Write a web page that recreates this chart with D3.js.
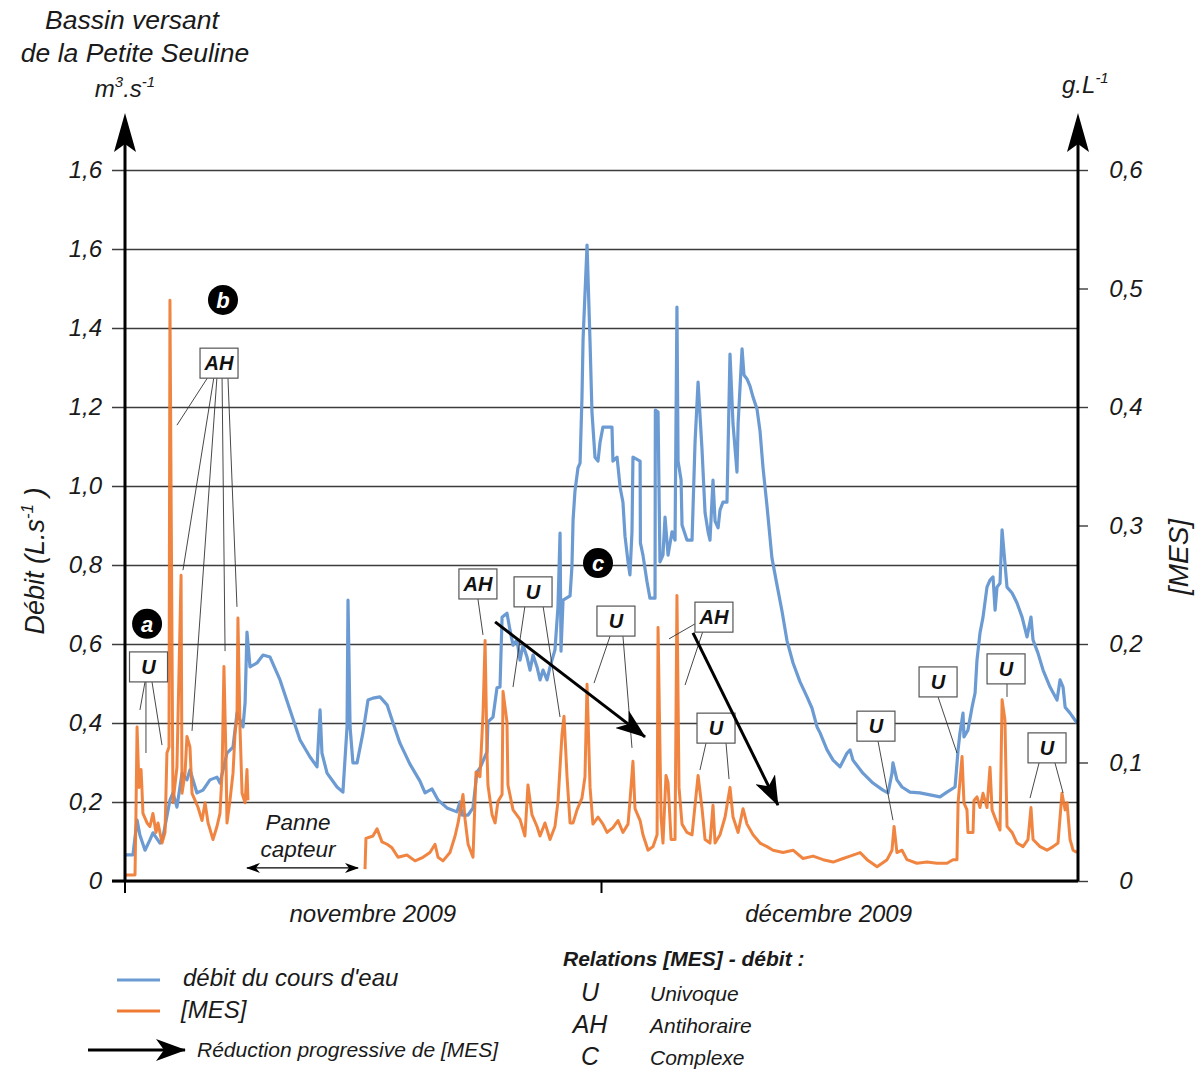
<!DOCTYPE html>
<html><head><meta charset="utf-8">
<script src="https://cdn.jsdelivr.net/npm/d3@7"></script>
<style>body{margin:0;background:#fff}</style>
</head><body><svg id="chart" width="1198" height="1072"></svg>
<script>
// ---------- DATA ----------
// time in days since 1 Nov 2009
const flowDays=[
0,0.13,0.50,0.76,0.94,1.26,1.57,1.76,2.20,2.39,
2.83,3.02,3.27,3.59,3.90,4.09,4.53,4.91,5.35,5.79,
5.98,6.42,6.80,7.05,7.43,7.56,7.68,7.87,8.31,8.69,
9.13,9.76,10.39,11.02,11.65,12.09,12.28,12.40,12.72,13.35,
13.72,13.98,14.04,14.17,14.35,14.61,14.98,15.30,15.61,16.05,
16.50,16.81,17.31,17.94,18.57,18.89,19.33,19.71,20.27,20.90,
21.09,21.22,21.60,21.91,22.16,22.35,22.79,22.85,23.17,23.42,
23.61,23.74,24.05,24.24,24.43,24.68,24.87,25.06,25.31,25.50,
25.69,25.94,26.13,26.32,26.57,26.76,27.07,27.26,27.39,27.45,
27.58,28.02,28.14,28.21,28.33,28.52,28.65,28.77,28.84,29.09,
29.28,29.40,29.59,29.78,29.91,30.09,30.66,30.72,30.98,31.17,
31.35,31.48,31.67,31.79,31.92,31.98,32.43,32.45,32.61,32.86,
33.05,33.37,33.39,33.56,33.68,33.87,34.00,34.19,34.44,34.63,
34.75,34.82,35.01,35.07,35.38,35.70,35.89,36.08,36.33,36.52,
36.71,36.83,37.02,37.15,37.34,37.46,37.65,37.90,38.09,38.28,
38.53,38.60,38.85,38.97,39.16,39.35,39.54,39.79,39.98,40.17,
40.42,40.73,41.05,41.36,41.68,42.06,42.50,42.94,43.25,43.57,
43.76,44.20,44.58,45.02,45.46,45.65,45.83,46.46,47.09,47.72,
48.04,48.29,48.35,48.60,48.92,49.42,50.05,50.68,51.31,51.75,
52.26,52.45,52.57,52.76,52.82,53.07,53.33,53.52,53.64,53.83,
54.02,54.27,54.46,54.65,54.78,54.90,55.09,55.22,55.40,55.53,
55.85,56.16,56.48,56.79,57.04,57.17,57.48,57.80,58.24,58.68,
58.87,59.06,59.19,59.50,59.94];
const flowValues=[
0.066,0.066,0.066,0.154,0.116,0.078,0.104,0.122,0.096,0.111,
0.205,0.223,0.187,0.273,0.256,0.281,0.223,0.230,0.256,0.263,
0.248,0.324,0.339,0.425,0.390,0.451,0.630,0.542,0.552,0.572,
0.567,0.509,0.433,0.357,0.314,0.289,0.433,0.324,0.273,0.238,
0.225,0.390,0.711,0.390,0.299,0.299,0.375,0.458,0.463,0.466,
0.446,0.408,0.349,0.296,0.253,0.223,0.233,0.205,0.185,0.175,
0.200,0.167,0.167,0.185,0.276,0.286,0.327,0.403,0.415,0.489,
0.491,0.668,0.678,0.635,0.597,0.610,0.559,0.597,0.567,0.534,
0.572,0.542,0.509,0.534,0.509,0.542,0.585,0.694,0.881,0.582,
0.711,0.722,0.797,0.914,0.987,1.046,1.058,1.223,1.372,1.610,
1.362,1.187,1.073,1.063,1.111,1.149,1.149,1.063,1.073,0.997,
0.959,0.873,0.808,0.775,0.884,1.073,1.063,0.856,0.825,0.759,
0.716,0.716,1.192,1.187,0.808,0.825,0.921,0.825,0.884,0.863,
1.453,1.063,1.015,0.901,0.863,0.863,1.111,1.263,1.091,0.932,
0.884,0.863,1.015,0.911,0.894,0.939,0.959,0.959,1.334,1.157,
1.035,1.157,1.347,1.281,1.271,1.253,1.225,1.195,1.139,1.046,
0.949,0.818,0.749,0.684,0.608,0.552,0.504,0.466,0.438,0.390,
0.375,0.332,0.306,0.289,0.324,0.332,0.306,0.273,0.248,0.230,
0.223,0.273,0.299,0.256,0.238,0.225,0.223,0.218,0.213,0.225,
0.238,0.332,0.375,0.425,0.365,0.382,0.440,0.476,0.559,0.628,
0.668,0.744,0.762,0.770,0.686,0.744,0.754,0.889,0.805,0.744,
0.729,0.704,0.668,0.618,0.668,0.610,0.577,0.534,0.491,0.458,
0.509,0.491,0.440,0.425,0.400];

const mesDays=[
0,0.63,0.69,0.76,0.88,1.01,1.07,1.13,1.39,1.57,
1.76,1.95,2.08,2.33,2.52,2.64,2.77,2.83,3.02,3.27,
3.53,3.59,3.78,3.90,4.09,4.22,4.41,4.60,4.85,5.04,
5.23,5.54,5.79,5.98,6.11,6.23,6.36,6.42,6.61,6.80,
6.93,7.05,7.11,7.24,7.37,7.56,7.68,7.74,11.0,15.11,
15.17,15.61,15.87,16.18,16.50,16.81,17.19,17.75,18.26,18.76,
19.20,19.52,19.71,20.02,20.46,20.78,20.97,21.28,21.41,21.60,
21.91,22.10,22.35,22.54,22.67,22.79,22.85,23.11,23.30,23.48,
23.74,23.80,24.05,24.11,24.43,24.87,25.18,25.37,25.62,25.94,
26.13,26.44,26.76,27.07,27.26,27.51,27.64,27.83,28.02,28.21,
28.46,28.77,28.96,29.09,29.28,29.46,29.78,30.09,30.35,30.72,
31.04,31.35,31.67,31.79,31.98,32.11,32.43,32.61,32.93,33.24,
33.50,33.56,33.75,33.87,34.06,34.19,34.38,34.63,34.75,34.88,
35.07,35.38,35.70,35.89,36.08,36.33,36.52,36.83,37.02,37.15,
37.46,37.78,38.09,38.28,38.60,38.91,39.16,39.54,39.98,40.42,
40.80,41.43,42.06,42.69,43.32,43.95,44.58,45.21,45.65,46.28,
46.72,47.35,47.98,48.29,48.42,48.60,48.92,49.23,49.86,50.49,
51.12,51.75,52.13,52.38,52.45,52.70,52.82,53.01,53.07,53.39,
53.45,53.64,53.83,54.02,54.27,54.46,54.59,54.90,55.09,55.22,
55.40,55.53,55.85,56.16,56.54,56.85,57.04,57.17,57.61,58.05,
58.43,58.74,58.99,59.19,59.31,59.50,59.69,59.94];
const mesValues=[
0.005,0.005,0.057,0.130,0.079,0.094,0.077,0.057,0.049,0.046,
0.057,0.041,0.049,0.032,0.041,0.108,0.113,0.490,0.066,0.096,
0.258,0.074,0.091,0.122,0.113,0.074,0.068,0.062,0.051,0.066,
0.049,0.035,0.046,0.057,0.091,0.181,0.102,0.049,0.068,0.091,
0.125,0.138,0.222,0.130,0.074,0.066,0.094,0.068,null,0.010,
0.036,0.038,0.044,0.033,0.031,0.028,0.020,0.022,0.017,0.020,
0.024,0.031,0.020,0.017,0.024,0.038,0.049,0.073,0.052,0.031,
0.020,0.092,0.088,0.141,0.203,0.110,0.081,0.056,0.049,0.067,
0.073,0.160,0.134,0.081,0.060,0.052,0.038,0.081,0.056,0.046,
0.038,0.049,0.035,0.046,0.067,0.123,0.139,0.088,0.049,0.049,
0.060,0.070,0.088,0.166,0.079,0.048,0.054,0.048,0.041,0.045,
0.051,0.041,0.048,0.067,0.101,0.061,0.051,0.039,0.026,0.029,
0.039,0.214,0.054,0.032,0.089,0.083,0.035,0.035,0.241,0.079,
0.048,0.041,0.039,0.064,0.089,0.061,0.035,0.032,0.064,0.032,
0.039,0.054,0.079,0.054,0.041,0.061,0.048,0.039,0.032,0.029,
0.026,0.024,0.026,0.019,0.021,0.018,0.016,0.019,0.021,0.024,
0.018,0.012,0.018,0.026,0.046,0.024,0.026,0.018,0.015,0.016,
0.015,0.015,0.018,0.018,0.066,0.105,0.066,0.060,0.041,0.041,
0.068,0.071,0.062,0.074,0.062,0.096,0.060,0.049,0.043,0.153,
0.136,0.046,0.041,0.032,0.029,0.035,0.062,0.035,0.029,0.026,
0.029,0.032,0.074,0.060,0.066,0.035,0.026,0.024];

const leftTicks=[0,0.2,0.4,0.6,0.8,1.0,1.2,1.4,1.6,1.8];
const leftTickLabels=["0","0,2","0,4","0,6","0,8","1,0","1,2","1,4","1,6","1,6"];
const rightTicks=[0,0.1,0.2,0.3,0.4,0.5,0.6];
const rightTickLabels=["0","0,1","0,2","0,3","0,4","0,5","0,6"];
const monthTickDays=[0,30];
const monthLabels=["novembre 2009","décembre 2009"];
const monthLabelDays=[15.6,44.3];

// annotations (day, débit level)
const boxLabels=["U","AH","AH","U","U","AH","U","U","U","U","U"];
const boxDays=[1.48,5.92,22.22,25.69,30.91,37.08,37.21,47.28,51.19,55.47,58.05];
const boxLevels=[0.542,1.311,0.752,0.732,0.658,0.668,0.387,0.392,0.504,0.537,0.337];
const leaderLines=[
[1.26,0.504,0.94,0.433],[1.32,0.504,1.32,0.324],[1.70,0.504,2.33,0.344],
[5.23,1.276,3.27,1.154],[5.60,1.276,3.65,0.787],[5.79,1.276,4.22,0.380],[6.11,1.276,6.30,0.582],[6.48,1.276,7.05,0.694],
[22.22,0.714,22.54,0.623],
[25.18,0.696,24.43,0.491],[26.32,0.696,27.39,0.415],
[30.54,0.620,29.53,0.501],[31.35,0.620,31.92,0.337],
[35.89,0.651,34.25,0.613],[36.39,0.633,35.26,0.496],
[36.58,0.349,36.20,0.281],[37.84,0.349,38.03,0.258],
[47.41,0.354,48.35,0.154],
[51.19,0.466,52.38,0.324],
[55.53,0.499,55.53,0.466],
[57.55,0.299,56.98,0.210],[58.55,0.299,59.06,0.223]];
const trendArrows=[[23.30,0.656,32.74,0.365],[35.76,0.628,41.11,0.192]];
const badgeLetters=["a","b","c"];
const badgeDays=[1.39,6.17,29.78];
const badgeLevels=[0.651,1.471,0.805];
const panneDays=[7.68,14.67];
const panneLevel=0.033;
const panneText=["Panne","capteur"];
const panneTextDay=10.89;
const panneTextLevels=[0.129,0.061];

// ---------- CHART ----------
const F='"Liberation Sans", Arial, Helvetica, sans-serif';
const base=Date.UTC(2009,10,1);
const toDate=d=>new Date(base+d*864e5);
const X0=125,X1=1078,Y0=881,Y1=170;
const x=d3.scaleUtc().domain([toDate(0),toDate(60)]).range([X0,X1]);
const yL=d3.scaleLinear().domain([0,1.8]).range([Y0,Y1]);
const yR=d3.scaleLinear().domain([0,0.6]).range([Y0,Y1]);
const px=d=>x(toDate(d));

const svg=d3.select("#chart").attr("font-family",F);
const defs=svg.append("defs");
defs.append("marker").attr("id","ah").attr("viewBox","0 0 30 22").attr("refX",29).attr("refY",11)
 .attr("markerWidth",30).attr("markerHeight",22).attr("markerUnits","userSpaceOnUse").attr("orient","auto")
 .append("path").attr("d","M0,0 L30,11 L0,22 L8,11 Z").attr("fill","#000");
defs.append("marker").attr("id","sm").attr("viewBox","0 0 14 10").attr("refX",13).attr("refY",5)
 .attr("markerWidth",14).attr("markerHeight",10).attr("markerUnits","userSpaceOnUse").attr("orient","auto-start-reverse")
 .append("path").attr("d","M0,0 L14,5 L0,10 L4,5 Z").attr("fill","#000");

// gridlines + left ticks
const gL=svg.append("g").attr("transform",`translate(${X0},0)`)
 .call(d3.axisLeft(yL).tickValues(leftTicks).tickFormat((d,i)=>leftTickLabels[i]).tickSize(13).tickPadding(10));
gL.attr("font-family",F).attr("font-size",24).attr("font-style","italic");
gL.select(".domain").remove();
gL.selectAll(".tick line").attr("x1",X1-X0).attr("stroke","#3c3c3c").attr("stroke-width",1.4);
gL.selectAll(".tick text").attr("fill","#1a1a1a");

// right ticks
const gR=svg.append("g").attr("transform",`translate(${X1},0)`)
 .call(d3.axisRight(yR).tickValues(rightTicks).tickFormat((d,i)=>rightTickLabels[i]).tickSize(10));
gR.attr("font-family",F).attr("font-size",24).attr("font-style","italic");
gR.select(".domain").remove();
gR.selectAll(".tick line").attr("stroke","#3c3c3c").attr("stroke-width",1.4);
gR.selectAll(".tick text").attr("x",48).attr("text-anchor","middle").attr("fill","#1a1a1a");

// series
const flow=d3.zip(flowDays,flowValues);
svg.append("path").datum(flow)
 .attr("d",d3.line().x(d=>px(d[0])).y(d=>yL(d[1])))
 .attr("fill","none").attr("stroke","#6b9bd2").attr("stroke-width",3.2).attr("stroke-linejoin","round");
const mes=d3.zip(mesDays,mesValues);
svg.append("path").datum(mes)
 .attr("d",d3.line().defined(d=>d[1]!=null).x(d=>px(d[0])).y(d=>yR(d[1])))
 .attr("fill","none").attr("stroke","#ef7b32").attr("stroke-width",3).attr("stroke-linejoin","round").attr("opacity",0.92);

// axes lines
const ax=svg.append("g").attr("stroke","#000");
ax.append("line").attr("x1",112).attr("x2",X1).attr("y1",Y0).attr("y2",Y0).attr("stroke-width",3);
ax.append("line").attr("x1",X0).attr("x2",X0).attr("y1",Y0).attr("y2",140).attr("stroke-width",3);
ax.append("line").attr("x1",X1).attr("x2",X1).attr("y1",Y0).attr("y2",140).attr("stroke-width",3);
[X0,X1].forEach(xx=>{
  svg.append("path").attr("d",`M${xx},113 L${xx+11},152 L${xx},144 L${xx-11},152 Z`).attr("fill","#000");
});
monthTickDays.forEach(d=>{
  ax.append("line").attr("x1",px(d)).attr("x2",px(d)).attr("y1",Y0).attr("y2",Y0+12).attr("stroke-width",2);
});
monthLabels.forEach((t,i)=>{
  svg.append("text").attr("x",px(monthLabelDays[i])).attr("y",922).attr("text-anchor","middle")
   .attr("font-size",24).attr("font-style","italic").attr("fill","#1a1a1a").text(t);
});

// titles
function italicText(xx,yy,size,anchor){
  return svg.append("text").attr("x",xx).attr("y",yy).attr("font-size",size).attr("font-style","italic")
   .attr("text-anchor",anchor).attr("fill","#1a1a1a");
}
italicText(132,29,26.5,"middle").text("Bassin versant");
italicText(135,62,26.5,"middle").text("de la Petite Seuline");
const mt=italicText(125,97,24,"middle");
mt.append("tspan").text("m");
mt.append("tspan").attr("dy",-10).attr("font-size",15).text("3");
mt.append("tspan").attr("dy",10).text(".s");
mt.append("tspan").attr("dy",-10).attr("font-size",15).text("-1");
const gt=italicText(1062,93,24,"start");
gt.append("tspan").text("g.L");
gt.append("tspan").attr("dy",-10).attr("font-size",15).text("-1");

const yt=svg.append("text").attr("transform","translate(44,561) rotate(-90)").attr("text-anchor","middle")
 .attr("font-size",27).attr("font-style","italic").attr("fill","#1a1a1a");
yt.append("tspan").text("Débit (L.s");
yt.append("tspan").attr("dy",-11).attr("font-size",17).text("-1");
yt.append("tspan").attr("dy",11).text(" )");
svg.append("text").attr("transform","translate(1188,557) rotate(-90)").attr("text-anchor","middle")
 .attr("font-size",28).attr("font-style","italic").attr("fill","#1a1a1a").text("[MES]");

// annotations
const an=svg.append("g");
leaderLines.forEach(l=>{
  an.append("line").attr("x1",px(l[0])).attr("y1",yL(l[1])).attr("x2",px(l[2])).attr("y2",yL(l[3]))
   .attr("stroke","#333").attr("stroke-width",0.9);
});
boxLabels.forEach((t,i)=>{
  const cx=px(boxDays[i]), cy=yL(boxLevels[i]);
  an.append("rect").attr("x",cx-19).attr("y",cy-15).attr("width",38).attr("height",30)
   .attr("fill","#fff").attr("stroke","#555").attr("stroke-width",1.2);
  an.append("text").attr("x",cx).attr("y",cy).attr("dy","0.36em").attr("text-anchor","middle")
   .attr("font-size",20).attr("font-weight","bold").attr("font-style","italic").attr("fill","#111").text(t);
});
trendArrows.forEach(a=>{
  an.append("line").attr("x1",px(a[0])).attr("y1",yL(a[1])).attr("x2",px(a[2])).attr("y2",yL(a[3]))
   .attr("stroke","#000").attr("stroke-width",3).attr("marker-end","url(#ah)");
});
badgeLetters.forEach((t,i)=>{
  const cx=px(badgeDays[i]), cy=yL(badgeLevels[i]);
  an.append("circle").attr("cx",cx).attr("cy",cy).attr("r",15).attr("fill","#000");
  an.append("text").attr("x",cx).attr("y",cy).attr("dy","0.36em").attr("text-anchor","middle")
   .attr("font-size",22).attr("font-weight","bold").attr("font-style","italic").attr("fill","#fff").text(t);
});
an.append("line").attr("x1",px(panneDays[0])).attr("x2",px(panneDays[1])).attr("y1",yL(panneLevel)).attr("y2",yL(panneLevel))
 .attr("stroke","#000").attr("stroke-width",1.3).attr("marker-start","url(#sm)").attr("marker-end","url(#sm)");
panneText.forEach((t,i)=>{
  an.append("text").attr("x",px(panneTextDay)).attr("y",yL(panneTextLevels[i])).attr("text-anchor","middle")
   .attr("font-size",22.5).attr("font-style","italic").attr("fill","#1a1a1a").text(t);
});

// legend
const lg=svg.append("g");
lg.append("line").attr("x1",117).attr("x2",160).attr("y1",980).attr("y2",980).attr("stroke","#6b9bd2").attr("stroke-width",3);
lg.append("line").attr("x1",117).attr("x2",160).attr("y1",1011).attr("y2",1011).attr("stroke","#ef7b32").attr("stroke-width",3);
lg.append("text").attr("x",183).attr("y",986).attr("font-size",24).attr("font-style","italic").attr("fill","#1a1a1a").text("débit du cours d'eau");
lg.append("text").attr("x",181).attr("y",1018).attr("font-size",24).attr("font-style","italic").attr("fill","#1a1a1a").text("[MES]");
lg.append("line").attr("x1",88).attr("x2",185).attr("y1",1050).attr("y2",1050).attr("stroke","#000").attr("stroke-width",3).attr("marker-end","url(#ah)");
lg.append("text").attr("x",197).attr("y",1057).attr("font-size",21).attr("font-style","italic").attr("fill","#1a1a1a").text("Réduction progressive de [MES]");

const relSymbols=["U","AH","C"];
const relNames=["Univoque","Antihoraire","Complexe"];
lg.append("text").attr("x",563).attr("y",966).attr("font-size",21).attr("font-weight","bold").attr("font-style","italic").attr("fill","#1a1a1a").text("Relations [MES] - débit :");
relSymbols.forEach((s,i)=>{
  const yy=1001+i*32;
  lg.append("text").attr("x",590).attr("y",yy).attr("text-anchor","middle").attr("font-size",25).attr("font-style","italic").attr("fill","#1a1a1a").text(s);
  lg.append("text").attr("x",650).attr("y",yy).attr("font-size",21).attr("font-style","italic").attr("fill","#1a1a1a").text(relNames[i]);
});
</script></body></html>
